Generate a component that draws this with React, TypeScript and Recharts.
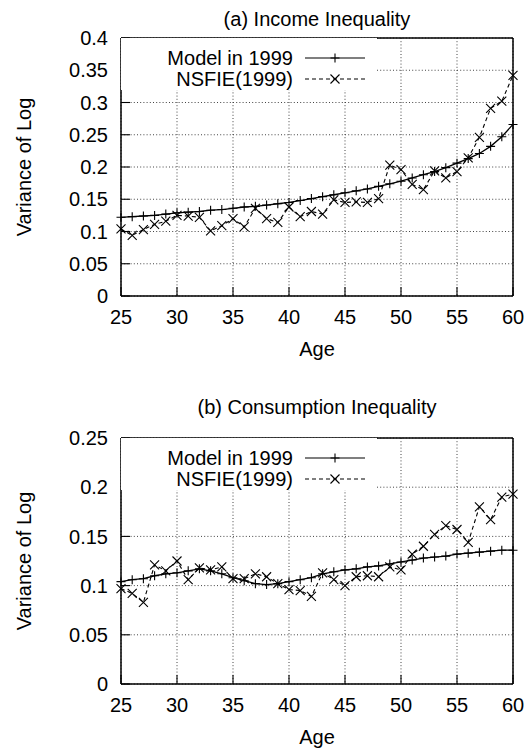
import React from 'react';
import { LineChart, Line, XAxis, YAxis, CartesianGrid, Legend } from 'recharts';

const ages = [25, 26, 27, 28, 29, 30, 31, 32, 33, 34, 35, 36, 37, 38, 39, 40, 41, 42, 43, 44, 45, 46, 47, 48, 49, 50, 51, 52, 53, 54, 55, 56, 57, 58, 59, 60];

const incomeModel = [0.122, 0.123, 0.124, 0.125, 0.127, 0.129, 0.130, 0.131, 0.133, 0.134, 0.136, 0.138, 0.139, 0.141, 0.143, 0.145, 0.148, 0.151, 0.154, 0.157, 0.160, 0.163, 0.166, 0.170, 0.174, 0.178, 0.183, 0.188, 0.193, 0.199, 0.206, 0.213, 0.221, 0.232, 0.247, 0.266];
const incomeNsfie = [0.104, 0.094, 0.103, 0.111, 0.116, 0.125, 0.124, 0.122, 0.101, 0.109, 0.120, 0.107, 0.136, 0.120, 0.114, 0.138, 0.123, 0.131, 0.127, 0.149, 0.145, 0.146, 0.145, 0.151, 0.203, 0.196, 0.173, 0.165, 0.194, 0.183, 0.193, 0.214, 0.246, 0.291, 0.302, 0.342];

const consModel = [0.104, 0.106, 0.107, 0.110, 0.112, 0.113, 0.115, 0.117, 0.115, 0.112, 0.108, 0.105, 0.102, 0.101, 0.102, 0.104, 0.106, 0.108, 0.112, 0.114, 0.116, 0.117, 0.119, 0.120, 0.122, 0.124, 0.126, 0.128, 0.129, 0.130, 0.132, 0.133, 0.134, 0.135, 0.136, 0.136];
const consNsfie = [0.097, 0.092, 0.083, 0.121, 0.115, 0.125, 0.106, 0.118, 0.116, 0.119, 0.107, 0.107, 0.112, 0.109, 0.102, 0.096, 0.095, 0.089, 0.113, 0.106, 0.100, 0.109, 0.110, 0.109, 0.119, 0.116, 0.132, 0.140, 0.152, 0.161, 0.157, 0.144, 0.180, 0.167, 0.190, 0.193];

const xTicks = [25, 30, 35, 40, 45, 50, 55, 60];
const incomeYTicks = [0, 0.05, 0.1, 0.15, 0.2, 0.25, 0.3, 0.35, 0.4];
const consYTicks = [0, 0.05, 0.1, 0.15, 0.2, 0.25];
const seriesNames = ['Model in 1999', 'NSFIE(1999)'];
const titles = ['(a) Income Inequality', '(b) Consumption Inequality'];
const xLabel = 'Age';
const yLabel = 'Variance of Log';

const FONT = '"Liberation Sans", Arial, Helvetica, sans-serif';
const FS = 20;

const Plus = ({ cx, cy }: { cx?: number; cy?: number }) => {
  if (cx == null || cy == null) return null;
  return <path d={`M${cx - 4.5},${cy}H${cx + 4.5}M${cx},${cy - 4.5}V${cy + 4.5}`} stroke="#000" strokeWidth={1.1} fill="none" />;
};
const Cross = ({ cx, cy }: { cx?: number; cy?: number }) => {
  if (cx == null || cy == null) return null;
  return <path d={`M${cx - 4.5},${cy - 4.5}L${cx + 4.5},${cy + 4.5}M${cx + 4.5},${cy - 4.5}L${cx - 4.5},${cy + 4.5}`} stroke="#000" strokeWidth={1.1} fill="none" />;
};

const LegendBox = () => (
  <svg width={256} height={52} style={{ display: 'block' }}>
    <rect x={0} y={0} width={256} height={52} fill="#fff" />
    <text x={172} y={27} textAnchor="end" fontSize={FS} fontFamily={FONT} fill="#000">{seriesNames[0]}</text>
    <line x1={184} x2={244} y1={20} y2={20} stroke="#000" strokeWidth={1.2} />
    <Plus cx={214} cy={20} />
    <text x={172} y={48} textAnchor="end" fontSize={FS} fontFamily={FONT} fill="#000">{seriesNames[1]}</text>
    <line x1={184} x2={244} y1={41} y2={41} stroke="#000" strokeWidth={1.2} strokeDasharray="4 3" />
    <Cross cx={214} cy={41} />
  </svg>
);

type PanelProps = {
  title: string;
  model: number[];
  nsfie: number[];
  yTicks: number[];
  height: number;
  topH: number;
  bottomH: number;
  titleGap: number;
};

const Panel = ({ title, model, nsfie, yTicks, height, topH, bottomH, titleGap }: PanelProps) => {
  const data = ages.map((a, i) => ({ age: a, model: model[i], nsfie: nsfie[i] }));
  const yMax = yTicks[yTicks.length - 1];
  const tickStyle = { fontSize: FS, fill: '#000', fontFamily: FONT };
  const axisLine = { stroke: '#000', strokeWidth: 1.5 };
  const tickLine = { stroke: '#000', strokeWidth: 1.1 };
  return (
    <LineChart width={532} height={height} data={data} margin={{ top: 0, right: 0, bottom: 0, left: 0 }}>
      <CartesianGrid stroke="#444" strokeDasharray="1 2.2" strokeWidth={1} />
      <XAxis
        dataKey="age"
        type="number"
        domain={[25, 60]}
        ticks={xTicks}
        height={bottomH}
        tickSize={-9}
        tickMargin={23}
        tick={tickStyle}
        axisLine={axisLine}
        tickLine={tickLine}
        label={{
          content: (p: any) => {
            const vb = p.viewBox || {};
            return (
              <text x={vb.x + vb.width / 2} y={vb.y + 59.5} textAnchor="middle" fontSize={FS} fontFamily={FONT} fill="#000">{xLabel}</text>
            );
          },
        }}
      />
      <XAxis
        xAxisId="top"
        dataKey="age"
        orientation="top"
        type="number"
        domain={[25, 60]}
        ticks={xTicks}
        height={topH}
        tickSize={-9}
        tick={false}
        axisLine={axisLine}
        tickLine={tickLine}
        label={{
          content: (p: any) => {
            const vb = p.viewBox || {};
            return (
              <text x={vb.x + vb.width / 2} y={vb.y + vb.height - titleGap} textAnchor="middle" fontSize={FS} fontFamily={FONT} fill="#000">{title}</text>
            );
          },
        }}
      />
      <YAxis
        type="number"
        domain={[0, yMax]}
        ticks={yTicks}
        width={121}
        tickSize={-9}
        tickMargin={22}
        tick={tickStyle}
        axisLine={axisLine}
        tickLine={tickLine}
        label={{
          content: (p: any) => {
            const vb = p.viewBox || {};
            const cy = vb.y + vb.height / 2;
            return (
              <text x={24} y={cy} transform={`rotate(-90, 24, ${cy})`} textAnchor="middle" dominantBaseline="central" fontSize={FS} fontFamily={FONT} fill="#000">{yLabel}</text>
            );
          },
        }}
      />
      <YAxis
        yAxisId="right"
        orientation="right"
        type="number"
        domain={[0, yMax]}
        ticks={yTicks}
        width={19}
        tickSize={-9}
        tick={false}
        axisLine={axisLine}
        tickLine={tickLine}
      />
      <Legend
        layout="vertical"
        align="center"
        verticalAlign="middle"
        content={<LegendBox />}
        wrapperStyle={{ top: topH, left: 121, width: 256, height: 52, background: '#fff', lineHeight: 0 }}
      />
      <Line
        dataKey="model"
        name={seriesNames[0]}
        type="linear"
        stroke="#000"
        strokeWidth={1.3}
        isAnimationActive={false}
        activeDot={false}
        dot={(p: any) => <Plus key={`m${p.index}`} cx={p.cx} cy={p.cy} />}
      />
      <Line
        dataKey="nsfie"
        name={seriesNames[1]}
        type="linear"
        stroke="#000"
        strokeWidth={1.1}
        strokeDasharray="4 3"
        isAnimationActive={false}
        activeDot={false}
        dot={(p: any) => <Cross key={`n${p.index}`} cx={p.cx} cy={p.cy} />}
      />
    </LineChart>
  );
};

export default function App() {
  return (
    <div style={{ position: 'absolute', left: 0, top: 0, width: 532, height: 753, background: '#fff', fontFamily: FONT }}>
      <div style={{ position: 'absolute', left: 0, top: 0 }}>
        <Panel title={titles[0]} model={incomeModel} nsfie={incomeNsfie} yTicks={incomeYTicks} height={376} topH={38} bottomH={80} titleGap={12} />
      </div>
      <div style={{ position: 'absolute', left: 0, top: 376 }}>
        <Panel title={titles[1]} model={consModel} nsfie={consNsfie} yTicks={consYTicks} height={377} topH={62} bottomH={69} titleGap={24} />
      </div>
    </div>
  );
}
